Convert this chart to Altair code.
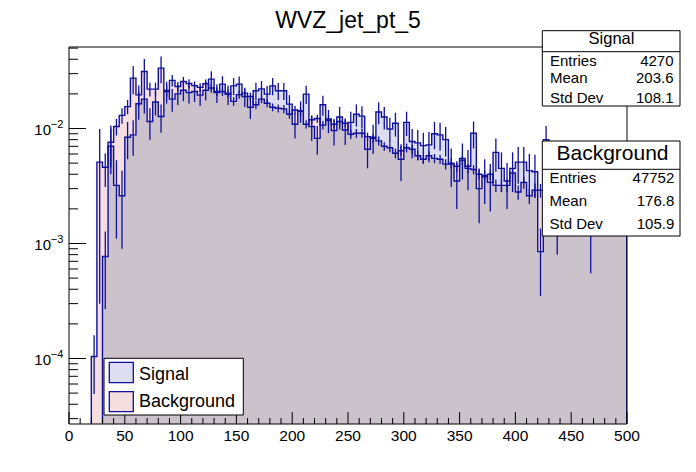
import altair as alt
import pandas as pd

# ---------------- data ----------------
bin_width = 5
n_bins = 100

signal = [
    0, 0, 0, 0, 0, 0, 0.00077, 0.0070, 0.0032, 0.0026,
    0.0084, 0.0088, 0.0164, 0.0180, 0.0115, 0.0170, 0.0127, 0.0210, 0.0180, 0.0200,
    0.0215, 0.0205, 0.0210, 0.0195, 0.0215, 0.0269, 0.0205, 0.0243, 0.0198, 0.0235,
    0.0243, 0.0190, 0.0153, 0.0213, 0.0221, 0.0199, 0.0235, 0.0213, 0.0213, 0.0163,
    0.0109, 0.0142, 0.0199, 0.0104, 0.0082, 0.0161, 0.0118, 0.0096, 0.0126, 0.0097,
    0.0113, 0.0133, 0.0128, 0.0066, 0.0084, 0.0139, 0.0126, 0.0099, 0.0111, 0.0054,
    0.0113, 0.0077, 0.0075, 0.0071, 0.0072, 0.0090, 0.0088, 0.0080, 0.0049, 0.0035,
    0.0055, 0.0047, 0.0091, 0.0030, 0.0038, 0.0034, 0.0062, 0.0045, 0.0035, 0.0045,
    0.0051, 0.0051, 0.0043, 0.0042, 0.00085, 0.0080, 0.0030, 0.0025, 0.0031, 0.0028,
    0.0027, 0.0030, 0.0026, 0.0022, 0.0029, 0.0027, 0.0028, 0.0025, 0.0027, 0.0024,
]
signal_err = [
    0, 0, 0, 0, 0, 0, 0.0005, 0.0030, 0.0021, 0.0017,
    0.0030, 0.0030, 0.0045, 0.0045, 0.0035, 0.0040, 0.0035, 0.0045, 0.0040, 0.0040,
    0.0042, 0.0040, 0.0040, 0.0038, 0.0040, 0.0045, 0.0038, 0.0042, 0.0038, 0.0040,
    0.0040, 0.0036, 0.0032, 0.0037, 0.0038, 0.0035, 0.0040, 0.0036, 0.0036, 0.0032,
    0.0027, 0.0030, 0.0036, 0.0026, 0.0023, 0.0032, 0.0027, 0.0025, 0.0028, 0.0025,
    0.0027, 0.0029, 0.0028, 0.0021, 0.0024, 0.0030, 0.0028, 0.0025, 0.0026, 0.0019,
    0.0027, 0.0022, 0.0022, 0.0021, 0.0021, 0.0024, 0.0024, 0.0023, 0.0018, 0.0015,
    0.0019, 0.0018, 0.0024, 0.0015, 0.0016, 0.0015, 0.0020, 0.0017, 0.0015, 0.0017,
    0.0018, 0.0018, 0.0017, 0.0017, 0.0005, 0.0025, 0.0015, 0.0017, 0.0015, 0.0014,
    0.0014, 0.0015, 0.0013, 0.00165, 0.0015, 0.0014, 0.0014, 0.0012, 0.0014, 0.0011,
]
background = [
    0, 0, 0, 0, 0.000104, 0.0051, 0.0046, 0.0076, 0.0104, 0.0130,
    0.0155, 0.0274, 0.0196, 0.0313, 0.0220, 0.0220, 0.0335, 0.0214, 0.0262, 0.0232,
    0.0256, 0.0246, 0.0236, 0.0228, 0.0245, 0.0225, 0.0210, 0.0210, 0.0203, 0.0172,
    0.0197, 0.0203, 0.0190, 0.0161, 0.0180, 0.0166, 0.0153, 0.0150, 0.0148, 0.0133,
    0.0145, 0.0141, 0.0109, 0.0119, 0.0122, 0.0107, 0.0121, 0.0109, 0.0115, 0.0111,
    0.0089, 0.0091, 0.0091, 0.0085, 0.0082, 0.0078, 0.0070, 0.0068, 0.0061, 0.0064,
    0.0068, 0.0066, 0.0058, 0.0054, 0.0058, 0.0055, 0.0054, 0.0049, 0.0050, 0.0047,
    0.0053, 0.0045, 0.0044, 0.0040, 0.0039, 0.0040, 0.0032, 0.0032, 0.0032, 0.0041,
    0.0028, 0.0034, 0.0026, 0.0029, 0.0029, 0.0030, 0.0029, 0.0028, 0.0028, 0.0027,
    0.0026, 0.0026, 0.0025, 0.0024, 0.0024, 0.0023, 0.0022, 0.0022, 0.0021, 0.0021,
]
background_err = [
    0, 0, 0, 0, 0.000055, 0.0048, 0.0015, 0.0030, 0.0017, 0.0020,
    0.0022, 0.0075, 0.0040, 0.0090, 0.0030, 0.0030, 0.0088, 0.0025, 0.0030, 0.0022,
    0.0025, 0.0022, 0.0020, 0.0020, 0.0022, 0.0020, 0.0018, 0.0018, 0.0016, 0.0015,
    0.0016, 0.0016, 0.0015, 0.0013, 0.0014, 0.0013, 0.0012, 0.0012, 0.0012, 0.0011,
    0.0012, 0.0011, 0.0009, 0.0010, 0.0010, 0.0009, 0.0010, 0.0009, 0.0009, 0.0009,
    0.0008, 0.0008, 0.0008, 0.0007, 0.0007, 0.0007, 0.0006, 0.0006, 0.0006, 0.0006,
    0.0006, 0.0006, 0.0005, 0.0005, 0.0005, 0.0005, 0.0005, 0.0005, 0.0005, 0.0005,
    0.0005, 0.0004, 0.0004, 0.0004, 0.0004, 0.0004, 0.0004, 0.0004, 0.0004, 0.0004,
    0.0004, 0.0004, 0.0004, 0.0004, 0.0004, 0.0004, 0.0004, 0.0004, 0.0004, 0.0004,
    0.0004, 0.0004, 0.0004, 0.0004, 0.0004, 0.0004, 0.0004, 0.0004, 0.0004, 0.0004,
]

x_tick_labels = [0, 50, 100, 150, 200, 250, 300, 350, 400, 450, 500]
y_decades = [1e-4, 1e-3, 1e-2]
y_decade_exp = ["\u22124", "\u22123", "\u22122"]

title_text = "WVZ_jet_pt_5"
signal_stats = [("Entries", "4270"), ("Mean", "203.6"), ("Std Dev", "108.1")]
background_stats = [("Entries", "47752"), ("Mean", "176.8"), ("Std Dev", "105.9")]

# ---------------- styling ----------------
FONT = "Liberation Sans"
NAVY = "#10109c"
OVERLAP = "#cbc2cb"
PINK = "#f4dee0"
LIGHTBLUE = "#dedef3"
W, H = 558, 377
YMIN, YMAX = 2.694e-5, 0.05113
FLOOR = 1e-7

xs = alt.Scale(domain=[0, 500], nice=False, zero=False)
ys = alt.Scale(type="log", domain=[YMIN, YMAX], nice=False)

edges = [bin_width * i for i in range(n_bins + 1)]


def pos(v):
    return v if v > 0 else FLOOR


rows = []
for i in range(n_bins):
    s, b = pos(signal[i]), pos(background[i])
    rows.append({"x": edges[i], "s": s, "b": b, "m": min(s, b), "floor": FLOOR})
last = rows[-1]
rows.append({"x": edges[-1], "s": last["s"], "b": last["b"], "m": last["m"], "floor": FLOOR})
area_df = pd.DataFrame(rows)

line_rows = []
for name, vals in (("Background", background), ("Signal", signal)):
    for i in range(n_bins):
        line_rows.append({"series": name, "x": edges[i], "v": pos(vals[i])})
    line_rows.append({"series": name, "x": edges[-1], "v": pos(vals[-1])})
    line_rows.append({"series": name, "x": edges[-1], "v": FLOOR})
line_df = pd.DataFrame(line_rows)

err_rows = []
for vals, errs in ((background, background_err), (signal, signal_err)):
    for i in range(n_bins):
        if vals[i] > 0 and errs[i] > 0:
            err_rows.append({
                "c": edges[i] + bin_width / 2,
                "lo": max(vals[i] - errs[i], FLOOR),
                "hi": vals[i] + errs[i],
            })
err_df = pd.DataFrame(err_rows)

X = alt.X("x:Q", scale=xs, axis=None)

base = alt.Chart(area_df)
overlap_area = base.mark_area(interpolate="step-after", color=OVERLAP, clip=True).encode(
    x=X, y=alt.Y("m:Q", scale=ys, axis=None), y2=alt.Y2("floor:Q"))
bkg_area = base.mark_area(interpolate="step-after", color=PINK, clip=True).encode(
    x=X, y=alt.Y("b:Q", scale=ys, axis=None), y2=alt.Y2("m:Q"))
sig_area = base.mark_area(interpolate="step-after", color=LIGHTBLUE, clip=True).encode(
    x=X, y=alt.Y("s:Q", scale=ys, axis=None), y2=alt.Y2("m:Q"))

outlines = alt.Chart(line_df).mark_line(
    interpolate="step-after", color=NAVY, strokeWidth=1.4, clip=True
).encode(x=X, y=alt.Y("v:Q", scale=ys, axis=None), detail="series:N")

errbars = alt.Chart(err_df).mark_rule(color=NAVY, strokeWidth=1.3, clip=True).encode(
    x=alt.X("c:Q", scale=xs, axis=None),
    y=alt.Y("lo:Q", scale=ys, axis=None),
    y2=alt.Y2("hi:Q"),
)

one = pd.DataFrame({"a": [0]})

frame = alt.Chart(one).mark_rect(fillOpacity=0, stroke="black", strokeWidth=1).encode(
    x=alt.value(0), x2=alt.value(W), y=alt.value(0), y2=alt.value(H))

# axis ticks (drawn inward as in ROOT)
x_major = pd.DataFrame({"t": x_tick_labels, "lab": [str(v) for v in x_tick_labels]})
x_minor = pd.DataFrame({"t": [v for v in range(0, 501, 10) if v % 50 != 0]})
xmaj_ticks = alt.Chart(x_major).mark_rule(color="black", strokeWidth=1).encode(
    x=alt.X("t:Q", scale=xs, axis=None), y=alt.value(H), y2=alt.value(H - 12))
xmin_ticks = alt.Chart(x_minor).mark_rule(color="black", strokeWidth=1).encode(
    x=alt.X("t:Q", scale=xs, axis=None), y=alt.value(H), y2=alt.value(H - 6))
x_labels = alt.Chart(x_major).mark_text(
    font=FONT, fontSize=15.5, align="center", baseline="alphabetic", color="black"
).encode(x=alt.X("t:Q", scale=xs, axis=None), y=alt.value(H + 16.5), text="lab:N")

y_minor_vals = []
for d in (1e-5, 1e-4, 1e-3, 1e-2):
    for k in range(2, 10):
        v = k * d
        if YMIN <= v <= YMAX:
            y_minor_vals.append(v)
ymaj_df = pd.DataFrame({"t": y_decades, "exp": y_decade_exp})
ymin_df = pd.DataFrame({"t": y_minor_vals})
ymaj_ticks = alt.Chart(ymaj_df).mark_rule(color="black", strokeWidth=1).encode(
    y=alt.Y("t:Q", scale=ys, axis=None), x=alt.value(0), x2=alt.value(17))
ymin_ticks = alt.Chart(ymin_df).mark_rule(color="black", strokeWidth=1).encode(
    y=alt.Y("t:Q", scale=ys, axis=None), x=alt.value(0), x2=alt.value(9))
y_lab10 = alt.Chart(ymaj_df).mark_text(
    font=FONT, fontSize=15, align="right", baseline="alphabetic", dy=6.5, color="black", text="10"
).encode(y=alt.Y("t:Q", scale=ys, axis=None), x=alt.value(-18))
y_labexp = alt.Chart(ymaj_df).mark_text(
    font=FONT, fontSize=11, align="right", baseline="alphabetic", dy=0, color="black"
).encode(y=alt.Y("t:Q", scale=ys, axis=None), x=alt.value(-5.7), text="exp:N")


def txt(s, x, y, size, align="left"):
    return alt.Chart(one).mark_text(
        text=s, font=FONT, fontSize=size, align=align, baseline="alphabetic", color="black"
    ).encode(x=alt.value(x), y=alt.value(y))


def box(x1, x2, y1, y2, fill="white", stroke="black", sw=1):
    return alt.Chart(one).mark_rect(fill=fill, stroke=stroke, strokeWidth=sw).encode(
        x=alt.value(x1), x2=alt.value(x2), y=alt.value(y1), y2=alt.value(y2))


def hline(x1, x2, y):
    return alt.Chart(one).mark_rule(color="black", strokeWidth=1).encode(
        x=alt.value(x1), x2=alt.value(x2), y=alt.value(y))


layers = [overlap_area, bkg_area, sig_area, outlines, errbars, frame,
          xmaj_ticks, xmin_ticks, x_labels, ymaj_ticks, ymin_ticks, y_lab10, y_labexp]

# title
layers.append(txt(title_text, 279, -19, 23, "center"))

# Signal stats box
layers += [box(473.3, 611, -16.3, 59), hline(473.3, 611, 4.7),
           txt("Signal", 542.5, -3.5, 16.5, "center")]
for (k, v), yb in zip(signal_stats, (18.7, 36.3, 55.5)):
    layers += [txt(k, 481, yb, 15, "left"), txt(v, 604.5, yb, 15, "right")]

# Background stats box
layers += [box(473.3, 611, 94, 189), hline(473.3, 611, 122.3),
           txt("Background", 543.5, 112.5, 21, "center")]
for (k, v), yb in zip(background_stats, (135.7, 158.7, 182.3)):
    layers += [txt(k, 480.5, yb, 15, "left"), txt(v, 605.3, yb, 15, "right")]

# legend
layers += [box(35, 174.3, 311.3, 368),
           box(40.3, 64.3, 315.3, 335.7, fill=LIGHTBLUE, stroke=NAVY, sw=1.3),
           box(40.3, 64.3, 344.7, 364.7, fill=PINK, stroke=NAVY, sw=1.3),
           txt("Signal", 70, 332.7, 18, "left"),
           txt("Background", 70, 359.7, 18, "left")]

chart = alt.layer(*layers).properties(
    width=W, height=H,
    autosize=alt.AutoSizeParams(type="none"),
    padding={"left": 61, "top": 39, "right": 61, "bottom": 40},
    background="white",
).configure_view(stroke=None)

chart.save("out.html", embed_options={"renderer": "svg", "actions": False})
